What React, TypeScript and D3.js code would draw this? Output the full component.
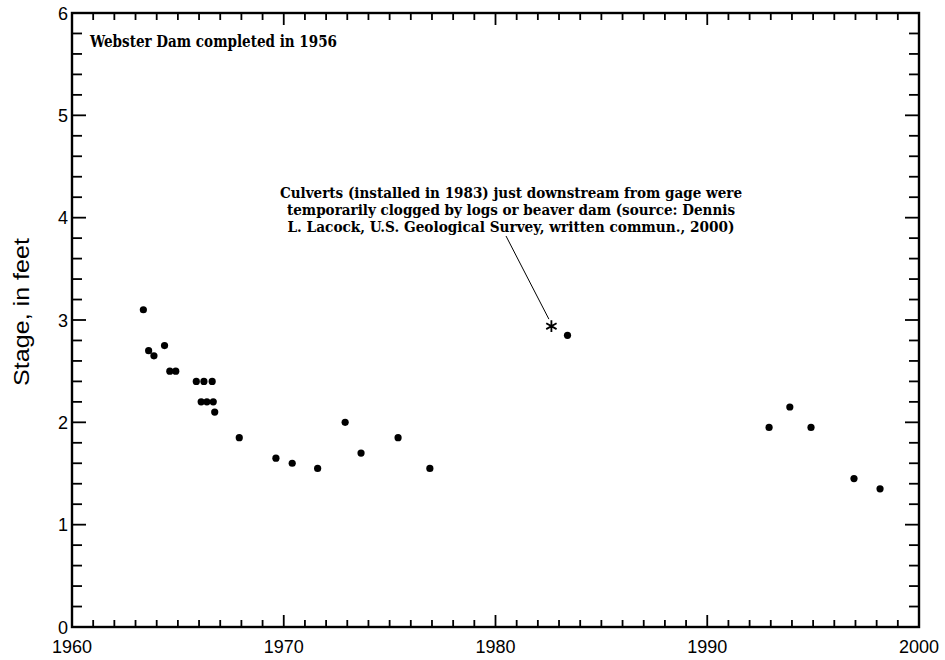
import React, { useEffect, useRef } from 'react';
import * as d3 from 'd3';

// measured stage at the gage, by decimal year
const years = [
  1963.37, 1963.62, 1963.87, 1964.37, 1964.62, 1964.9,
  1965.87, 1966.23, 1966.62, 1966.1, 1966.37, 1966.67, 1966.74,
  1967.9, 1969.63, 1970.4, 1971.6, 1972.9, 1973.65, 1975.4, 1976.9,
  1983.4, 1992.92, 1993.9, 1994.9, 1996.93, 1998.16,
];
const stages = [
  3.1, 2.7, 2.65, 2.75, 2.5, 2.5,
  2.4, 2.4, 2.4, 2.2, 2.2, 2.2, 2.1,
  1.85, 1.65, 1.6, 1.55, 2.0, 1.7, 1.85, 1.55,
  2.85, 1.95, 2.15, 1.95, 1.45, 1.35,
];

// the clogged-culvert reading (asterisk)
const flagged = { year: 1982.64, stage: 2.94 };

const xTickLabels = [1960, 1970, 1980, 1990, 2000];
const yTickLabels = [0, 1, 2, 3, 4, 5, 6];

const noteLines = [
  'Culverts (installed in 1983) just downstream from gage were',
  'temporarily clogged by logs or beaver dam (source: Dennis',
  'L. Lacock, U.S. Geological Survey, written commun., 2000)',
];

export default function App() {
  const svgRef = useRef<SVGSVGElement>(null);

  useEffect(() => {
    document.body.style.margin = '0';
    if (!svgRef.current) return;
    const svg = d3.select(svgRef.current);
    svg.selectAll('*').remove();

    const left = 72, right = 919, top = 13, bottom = 627;
    const x = d3.scaleLinear().domain([1960, 2000]).range([left, right]);
    const y = d3.scaleLinear().domain([0, 6]).range([bottom, top]);

    const sans = 'Liberation Sans, Arial, sans-serif';
    const serif = 'DejaVu Serif Condensed, DejaVu Serif, serif';

    // minor + major ticks on all four sides, pointing inward
    const g = svg.append('g').attr('stroke', '#000').attr('stroke-width', 1.8);
    d3.range(1961, 2000).forEach(yr => {
      const len = yr % 10 === 0 ? 12 : 7;
      g.append('line').attr('x1', x(yr)).attr('x2', x(yr)).attr('y1', bottom).attr('y2', bottom - len);
      g.append('line').attr('x1', x(yr)).attr('x2', x(yr)).attr('y1', top).attr('y2', top + len);
    });
    d3.range(1, 30).forEach(i => {
      const v = i * 0.2;
      const len = i % 5 === 0 ? 14 : 10;
      g.append('line').attr('x1', left).attr('x2', left + len).attr('y1', y(v)).attr('y2', y(v));
      g.append('line').attr('x1', right).attr('x2', right - len).attr('y1', y(v)).attr('y2', y(v));
    });

    svg.append('rect')
      .attr('x', left).attr('y', top)
      .attr('width', right - left).attr('height', bottom - top)
      .attr('fill', 'none').attr('stroke', '#000').attr('stroke-width', 2.4);

    // tick labels
    svg.selectAll('.xl').data(xTickLabels).enter().append('text')
      .attr('x', d => x(d)).attr('y', 653)
      .attr('text-anchor', 'middle')
      .attr('font-family', sans).attr('font-size', 18)
      .text(d => d);
    svg.selectAll('.yl').data(yTickLabels).enter().append('text')
      .attr('x', left - 4).attr('y', d => y(d) + 6.5)
      .attr('text-anchor', 'end')
      .attr('font-family', sans).attr('font-size', 18)
      .text(d => d);

    svg.append('text')
      .attr('transform', 'translate(29,312) rotate(-90)')
      .attr('text-anchor', 'middle')
      .attr('font-family', sans).attr('font-size', 22)
      .attr('textLength', 148).attr('lengthAdjust', 'spacingAndGlyphs')
      .text('Stage, in feet');

    svg.append('text')
      .attr('x', 90).attr('y', 47)
      .attr('font-family', serif).attr('font-weight', 'bold').attr('font-size', 16)
      .attr('textLength', 247).attr('lengthAdjust', 'spacingAndGlyphs')
      .text('Webster Dam completed in 1956');

    const noteW = [462, 448, 447];
    svg.selectAll('.note').data(noteLines).enter().append('text')
      .attr('x', 511).attr('y', (_, i) => 198 + i * 17)
      .attr('text-anchor', 'middle')
      .attr('font-family', serif).attr('font-weight', 'bold').attr('font-size', 14)
      .attr('textLength', (_, i) => noteW[i]).attr('lengthAdjust', 'spacingAndGlyphs')
      .text(d => d);

    // leader line to the asterisk
    svg.append('line')
      .attr('x1', 506).attr('y1', 236)
      .attr('x2', x(flagged.year) - 2.5).attr('y2', y(flagged.stage) - 7)
      .attr('stroke', '#000').attr('stroke-width', 1);

    svg.append('path')
      .attr('transform', `translate(${x(flagged.year)},${y(flagged.stage)})`)
      .attr('d', d3.symbol().type(d3.symbolAsterisk).size(100)())
      .attr('fill', 'none').attr('stroke', '#000').attr('stroke-width', 1.8);

    svg.selectAll('.dot').data(years).enter().append('circle')
      .attr('cx', d => x(d))
      .attr('cy', (_, i) => y(stages[i]))
      .attr('r', 3.6)
      .attr('fill', '#000');
  }, []);

  return <svg ref={svgRef} width={945} height={660} style={{ display: 'block', background: '#fff' }} />;
}
